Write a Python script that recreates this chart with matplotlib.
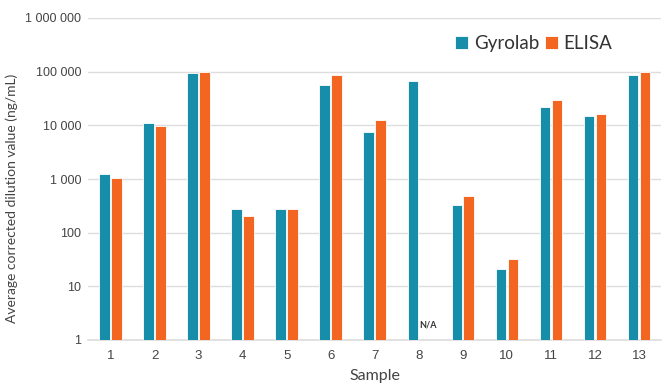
import numpy as np
import matplotlib.pyplot as plt
from matplotlib.ticker import FixedLocator, NullLocator

samples = [str(i) for i in range(1, 14)]
gyrolab = [1250, 11200, 96000, 280, 280, 57000, 7500, 67000, 330, 20, 22000, 15000, 85000]
elisa = [1050, 9800, 100000, 200, 280, 85000, 12700, np.nan, 490, 32, 30000, 16500, 100000]
y_ticks = [1, 10, 100, 1000, 10000, 100000, 1000000]
y_labels = ["1", "10", "100", "1 000", "10 000", "100 000", "1 000 000"]

TEAL = "#168EA9"
ORANGE = "#F36621"

fig = plt.figure(figsize=(6.64, 3.89), dpi=100)
ax = fig.add_axes([88 / 664, 49 / 389, 573 / 664, 322 / 389])

x = np.arange(1, len(samples) + 1)
w = 0.24
ax.bar(x - 0.135, gyrolab, w, bottom=1, color=TEAL, edgecolor="white", linewidth=0.6,
       label="Gyrolab", zorder=3)
ax.bar(x + 0.135, elisa, w, bottom=1, color=ORANGE, edgecolor="white", linewidth=0.6,
       label="ELISA", zorder=3)
ax.text(8 + 0.2, 1.55, "N/A", ha="center", va="bottom", fontsize=6.5,
        fontweight="bold", color="#333333", family="Lato")

ax.set_yscale("log")
ax.set_ylim(1, 1000000)
ax.set_xlim(0.49, 13.5)
ax.yaxis.set_major_locator(FixedLocator(y_ticks))
ax.yaxis.set_minor_locator(NullLocator())
ax.set_yticklabels(y_labels, fontsize=9, color="#444444", family="Liberation Sans")
ax.set_xticks(x)
ax.set_xticklabels(samples, fontsize=9.5, color="#444444", family="Liberation Sans")
ax.tick_params(axis="x", length=0, pad=7)
ax.tick_params(axis="y", length=0, pad=5)

ax.grid(axis="y", color="#dddddd", linewidth=1, zorder=0)
for s in ["top", "right", "left"]:
    ax.spines[s].set_visible(False)
ax.spines["bottom"].set_color("#dddddd")
ax.spines["bottom"].set_linewidth(1.2)

ax.set_xlabel("Sample", fontsize=11.5, color="#444444", family="Lato", labelpad=5)
ax.set_ylabel("Average corrected dilution value (ng/mL)", fontsize=10, color="#444444",
              family="Lato")
ax.yaxis.set_label_coords(-0.122, 0.44)

leg = ax.legend(loc="upper right", bbox_to_anchor=(0.945, 1.0), ncol=2, frameon=False,
                handlelength=0.7, handleheight=0.7, handletextpad=0.3, columnspacing=0.3,
                prop={"family": "Lato", "size": 13.5})
for t in leg.get_texts():
    t.set_color("#333333")

fig.savefig("out.png", dpi=100)
